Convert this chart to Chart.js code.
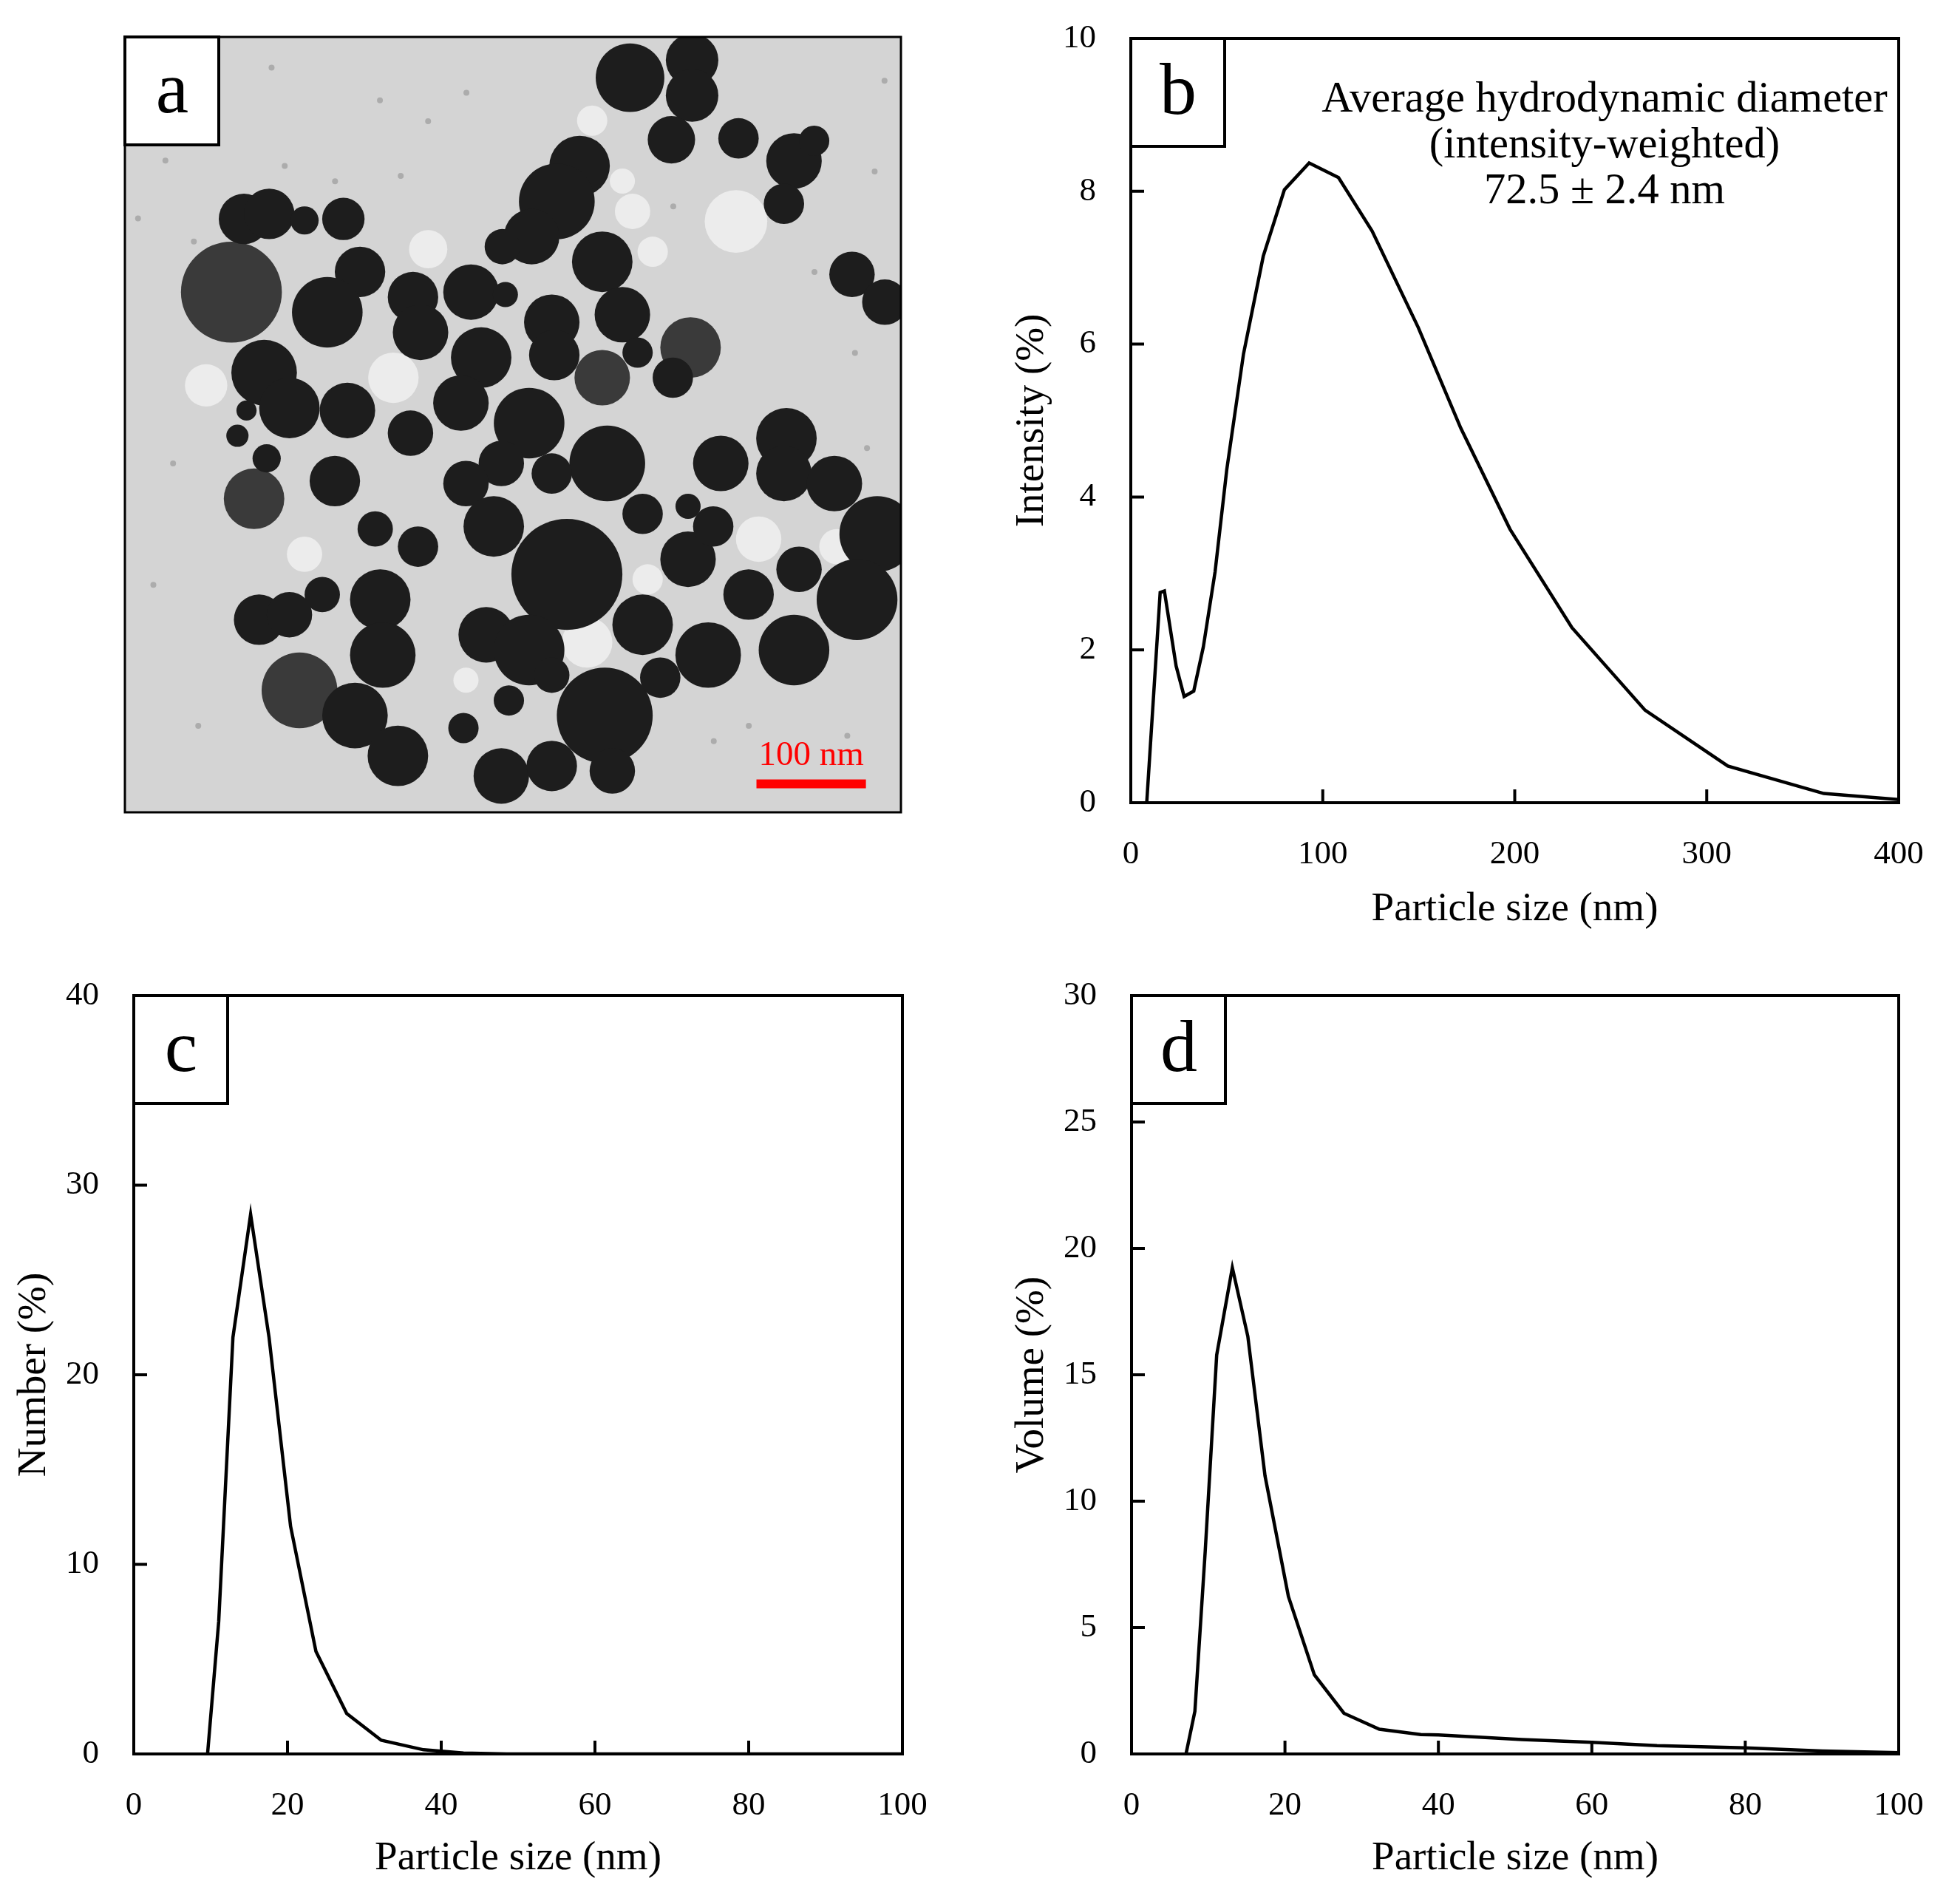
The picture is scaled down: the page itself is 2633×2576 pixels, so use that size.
<!DOCTYPE html>
<html>
<head>
<meta charset="utf-8">
<script src="https://cdn.jsdelivr.net/npm/chart.js@4.4.0/dist/chart.umd.min.js"></script>
<style>
html, body { margin: 0; padding: 0; background: #fff; }
#page { position: relative; width: 2633px; height: 2576px; background: #fff; overflow: hidden; }
canvas { position: absolute; }
</style>
</head>
<body>
<div id="page">
  <canvas id="panelA" width="1300" height="1250" style="left:0px;top:0px"></canvas>
  <canvas id="panelB" width="1293" height="1300" style="left:1340px;top:0px"></canvas>
  <canvas id="panelC" width="1300" height="1286" style="left:0px;top:1290px"></canvas>
  <canvas id="panelD" width="1293" height="1286" style="left:1340px;top:1290px"></canvas>
</div>
<script>
// (b) intensity-weighted size distribution
var sizeB = [8.3, 15.3, 17.5, 23.6, 27.8, 32.8, 37.8, 43.9, 50, 58.7, 69, 80, 92.9, 108.2, 125.7, 149.7, 171.9, 197.5, 229.8, 267.9, 311, 361, 400];
var intensityB = [0, 2.75, 2.77, 1.79, 1.39, 1.46, 2.04, 3.02, 4.36, 5.87, 7.15, 8.02, 8.37, 8.18, 7.48, 6.22, 4.90, 3.58, 2.29, 1.21, 0.48, 0.12, 0.04];
var xTicksB = [0, 100, 200, 300, 400];
var yTicksB = [0, 2, 4, 6, 8, 10];

// (c) number-weighted
var sizeC = [9.6, 11.05, 12.9, 15.2, 17.6, 20.4, 23.7, 27.7, 32.2, 37.7, 42.9, 48.5, 100];
var numberC = [0, 6.98, 21.97, 28.46, 21.97, 12.01, 5.41, 2.13, 0.72, 0.22, 0.05, 0, 0];
var yTicksC = [0, 10, 20, 30, 40];

// (d) volume-weighted
var sizeD = [7.1, 8.26, 9.6, 11.1, 13.14, 15.16, 17.4, 20.45, 23.83, 27.69, 32.3, 37.7, 40, 50.9, 60, 68.5, 80, 90, 100];
var volumeD = [0, 1.69, 8.0, 15.78, 19.24, 16.52, 11.0, 6.23, 3.13, 1.61, 0.98, 0.77, 0.75, 0.57, 0.46, 0.33, 0.24, 0.12, 0.05];
var yTicksD = [0, 5, 10, 15, 20, 25, 30];
var xTicksCD = [0, 20, 40, 60, 80, 100];

// (a) TEM micrograph, particles (nm, image is ~709 nm wide)
var darkX = [461.5, 518.2, 518.2, 499.3, 415.4, 394.6, 371.6, 344.8, 560.6, 611.3, 602.1, 629.7, 108.8, 131.8, 164.1, 199.6, 214.8, 184.9, 263.2, 270.1, 316.2, 347.6, 436.1, 454.5, 390, 392.3, 664.3, 694.3, 468.4, 500.6, 127.2, 150.3, 203.3, 325.5, 307, 260.9, 111.1, 102.8, 129.5, 369.3, 440.7, 343.9, 390, 191.8, 311.6, 337, 544.4, 604.4, 602.1, 648.2, 687.4, 668.9, 403.8, 514.5, 473, 514.5, 537.5, 473, 611.3, 532.9, 569.8, 615.9, 228.7, 267.8, 233.3, 235.6, 180.3, 122.6, 150.3, 210.2, 249.4, 330.1, 369.3, 390, 438.4, 343.9, 390, 445.3, 309.3, 350.8, 489.1];
var darkY = [37.3, 21.2, 53.5, 94, 118, 150.3, 182.6, 191.8, 92.7, 113.4, 152.6, 95, 166.4, 161.8, 167.8, 166.4, 214.8, 251.7, 237.9, 270.1, 233.3, 235.6, 205.6, 254, 260.9, 290.9, 217.1, 242.5, 288.6, 311.6, 307, 339.3, 341.6, 293.2, 334.7, 362.3, 341.6, 364.7, 385.4, 353.1, 390, 390, 399.2, 406.1, 408.4, 447.6, 390, 367, 399.2, 408.4, 454.5, 514.5, 491.4, 477.6, 436.1, 429.2, 447.6, 537.5, 560.6, 565.2, 509.9, 486.8, 449.9, 466.1, 514.5, 565.2, 509.9, 532.9, 528.3, 620.5, 657.4, 546.7, 560.6, 583.6, 620.5, 675.8, 666.6, 671.2, 632, 606.7, 585.9];
var darkD = [62.7, 48, 48, 43.3, 55.3, 69.2, 50.7, 32.3, 36.9, 50.7, 36.9, 27.7, 46.1, 46.1, 25.8, 38.7, 46.1, 64.5, 46.1, 50.7, 50.7, 23, 55.3, 50.7, 50.7, 46.1, 41.5, 41.5, 27.7, 36.9, 59.9, 55.3, 50.7, 55.3, 50.7, 41.5, 18.4, 20.3, 25.8, 64.5, 69.2, 41.5, 36.9, 46.1, 41.5, 55.3, 50.7, 55.3, 50.7, 50.7, 69.2, 73.8, 101.4, 50.7, 36.9, 23, 36.9, 55.3, 64.5, 59.9, 46.1, 41.5, 32.3, 36.9, 55.3, 59.9, 32.3, 46.1, 41.5, 59.9, 55.3, 50.7, 64.5, 32.3, 87.6, 50.7, 46.1, 41.5, 27.7, 27.7, 36.9];

var greyX = [97.3, 516.8, 436.1, 118, 159.5];
var greyY = [233.3, 284, 311.6, 422.3, 597.5];
var greyD = [92.2, 55.3, 50.7, 55.3, 69.2];

var residueX = [558.3, 463.8, 277.1, 74.2, 164.1, 482.2, 579, 650.5, 422.3, 477.6, 311.6, 245.3, 454.5, 426.9];
var residueY = [168.7, 159.5, 194.1, 318.6, 473, 196.4, 459.2, 466.1, 553.7, 496, 588.2, 311.6, 131.8, 76.5];
var residueD = [57.2, 32.3, 35, 38.7, 32.3, 27.7, 41.5, 32.3, 46.1, 27.7, 23, 46.1, 23, 27.7];

var dotX = [134, 233, 277, 312, 12, 37, 252, 192, 146, 63, 501, 694, 660, 570, 538, 67, 26, 44, 678, 630, 685, 667];
var dotY = [28, 58, 77, 51, 166, 113, 127, 132, 118, 187, 155, 40, 639, 630, 644, 630, 501, 390, 376, 215, 123, 289];

var fieldNm = 709;
var scaleBarNm = 100;
var scaleBarEnd = 677;
var scaleBarAt = 683;

var FONT = '"Liberation Serif", "DejaVu Serif", serif';
Chart.defaults.font.family = FONT;
Chart.defaults.color = '#000';

function toPoints(xs, ys) {
    return xs.map(function (x, i) { return { x: x, y: ys[i] }; });
}

// keep the plot box where it is, no extra room for overhanging labels
function noScalePadding(s) {
    s.paddingTop = 0;
    s.paddingBottom = 0;
    s.paddingLeft = 0;
    s.paddingRight = 0;
}

function drawLetterBox(ctx, a, letter) {
    ctx.save();
    ctx.fillStyle = '#fff';
    ctx.fillRect(a.left, a.top, 127, 146);
    ctx.strokeStyle = '#000';
    ctx.lineWidth = 4;
    ctx.strokeRect(a.left, a.top, 127, 146);
    ctx.fillStyle = '#000';
    ctx.font = '100px ' + FONT;
    ctx.textAlign = 'center';
    ctx.textBaseline = 'middle';
    ctx.fillText(letter, a.left + 64, a.top + 76);
    ctx.restore();
}

// distribution panels b, c, d
function distChart(id, p) {
    var el = document.getElementById(id);
    if (!el) {
        console.error('Canvas not found: ' + id);
        return;
    }
    var framePlugin = {
        id: 'frame' + id,
        afterDraw: function (chart) {
            var ctx = chart.ctx;
            var a = chart.chartArea;
            var xs = chart.scales.x;
            var ys = chart.scales.y;
            ctx.save();
            ctx.strokeStyle = '#000';
            ctx.lineWidth = 4;
            ctx.beginPath();
            xs.ticks.forEach(function (t) {
                var px = xs.getPixelForValue(t.value);
                ctx.moveTo(px, a.bottom);
                ctx.lineTo(px, a.bottom - 18);
            });
            ys.ticks.forEach(function (t) {
                var py = ys.getPixelForValue(t.value);
                ctx.moveTo(a.left, py);
                ctx.lineTo(a.left + 18, py);
            });
            ctx.stroke();
            ctx.strokeRect(a.left, a.top, a.right - a.left, a.bottom - a.top);
            ctx.restore();
            drawLetterBox(ctx, a, p.letter);
            if (p.notes) {
                ctx.save();
                ctx.fillStyle = '#000';
                ctx.font = '58.5px ' + FONT;
                ctx.textAlign = 'center';
                ctx.textBaseline = 'middle';
                p.notes.forEach(function (line, i) {
                    ctx.fillText(line, a.left + 641, a.top + 84 + i * 62);
                });
                ctx.restore();
            }
        }
    };

    return new Chart(el.getContext('2d'), {
        type: 'scatter',
        data: {
            datasets: [{
                data: toPoints(p.x, p.y),
                showLine: true,
                borderColor: '#000',
                borderWidth: 4.5,
                pointRadius: 0,
                tension: 0,
                fill: false
            }]
        },
        options: {
            responsive: false,
            animation: false,
            devicePixelRatio: 1,
            layout: { padding: { top: p.padTop, right: p.padRight, left: 0, bottom: 0 } },
            plugins: { legend: { display: false }, tooltip: { enabled: false } },
            scales: {
                x: {
                    type: 'linear',
                    min: p.xTicks[0],
                    max: p.xTicks[p.xTicks.length - 1],
                    afterBuildTicks: function (s) { s.ticks = p.xTicks.map(function (v) { return { value: v }; }); },
                    afterFit: function (s) { s.height = p.xAxisH; noScalePadding(s); },
                    grid: { display: false, drawTicks: false },
                    border: { display: false },
                    ticks: { padding: 43, font: { size: 45 }, maxRotation: 0, autoSkip: false },
                    title: { display: true, text: 'Particle size (nm)', font: { size: 55 }, padding: { top: 0, bottom: p.xTitlePad } }
                },
                y: {
                    type: 'linear',
                    min: p.yTicks[0],
                    max: p.yTicks[p.yTicks.length - 1],
                    afterBuildTicks: function (s) { s.ticks = p.yTicks.map(function (v) { return { value: v }; }); },
                    afterFit: function (s) { s.width = p.yAxisW; noScalePadding(s); },
                    grid: { display: false, drawTicks: false },
                    border: { display: false },
                    ticks: { padding: 47, font: { size: 45 }, autoSkip: false },
                    title: { display: true, text: p.yTitle, font: { size: 55 }, padding: { top: p.yTitlePad, bottom: 0 } }
                }
            }
        },
        plugins: [framePlugin]
    });
}

document.addEventListener('DOMContentLoaded', function () {

    // (a) micrograph
    var aEl = document.getElementById('panelA');
    var diamPx = function (list) {
        return function (c) {
            var s = c.chart.scales.x;
            return (s.getPixelForValue(list[c.dataIndex]) - s.getPixelForValue(0)) / 2;
        };
    };
    var micrographPlugin = {
        id: 'micrograph',
        beforeDatasetsDraw: function (chart) {
            var a = chart.chartArea;
            chart.ctx.save();
            chart.ctx.fillStyle = '#d4d4d4';
            chart.ctx.fillRect(a.left, a.top, a.right - a.left, a.bottom - a.top);
            chart.ctx.restore();
        },
        afterDraw: function (chart) {
            var ctx = chart.ctx;
            var a = chart.chartArea;
            var xs = chart.scales.x;
            var ys = chart.scales.y;
            ctx.save();
            ctx.strokeStyle = '#000';
            ctx.lineWidth = 3;
            ctx.strokeRect(a.left, a.top, a.right - a.left, a.bottom - a.top);
            // scale bar
            var x1 = xs.getPixelForValue(scaleBarEnd - scaleBarNm);
            var x2 = xs.getPixelForValue(scaleBarEnd);
            var yb = ys.getPixelForValue(scaleBarAt);
            ctx.fillStyle = '#ff0000';
            ctx.fillRect(x1, yb - 6, x2 - x1, 12);
            ctx.font = '47px ' + FONT;
            ctx.textAlign = 'center';
            ctx.textBaseline = 'alphabetic';
            ctx.fillText(scaleBarNm + ' nm', (x1 + x2) / 2, yb - 26);
            ctx.restore();
            drawLetterBox(ctx, a, 'a');
        }
    };
    new Chart(aEl.getContext('2d'), {
        type: 'scatter',
        data: {
            datasets: [{
                data: toPoints(darkX, darkY),
                backgroundColor: '#1d1d1d',
                borderWidth: 0,
                pointRadius: diamPx(darkD),
                clip: 0
            }, {
                data: toPoints(greyX, greyY),
                backgroundColor: '#3a3a3a',
                borderWidth: 0,
                pointRadius: diamPx(greyD),
                clip: 0
            }, {
                data: toPoints(residueX, residueY),
                backgroundColor: '#ececec',
                borderWidth: 0,
                pointRadius: diamPx(residueD),
                clip: 0
            }, {
                data: toPoints(dotX, dotY),
                backgroundColor: '#acacac',
                borderWidth: 0,
                pointRadius: 4,
                clip: 0
            }]
        },
        options: {
            responsive: false,
            animation: false,
            devicePixelRatio: 1,
            layout: { padding: { left: 169, top: 50, right: 81, bottom: 151 } },
            plugins: { legend: { display: false }, tooltip: { enabled: false } },
            scales: {
                x: { type: 'linear', min: 0, max: fieldNm, display: false },
                y: { type: 'linear', min: 0, max: fieldNm, reverse: true, display: false }
            }
        },
        plugins: [micrographPlugin]
    });

    distChart('panelB', {
        x: sizeB, y: intensityB, xTicks: xTicksB, yTicks: yTicksB,
        yTitle: 'Intensity (%)', letter: 'b',
        notes: ['Average hydrodynamic diameter', '(intensity-weighted)', '72.5 \u00b1 2.4 nm'],
        padTop: 52, padRight: 64, yAxisW: 190, xAxisH: 214, xTitlePad: 36, yTitlePad: 24
    });

    distChart('panelC', {
        x: sizeC, y: numberC, xTicks: xTicksCD, yTicks: yTicksC,
        yTitle: 'Number (%)', letter: 'c',
        padTop: 57, padRight: 79, yAxisW: 181, xAxisH: 203, xTitlePad: 28, yTitlePad: 14
    });

    distChart('panelD', {
        x: sizeD, y: volumeD, xTicks: xTicksCD, yTicks: yTicksD,
        yTitle: 'Volume (%)', letter: 'd',
        padTop: 57, padRight: 64, yAxisW: 191, xAxisH: 203, xTitlePad: 28, yTitlePad: 24
    });
});
</script>
</body>
</html>
